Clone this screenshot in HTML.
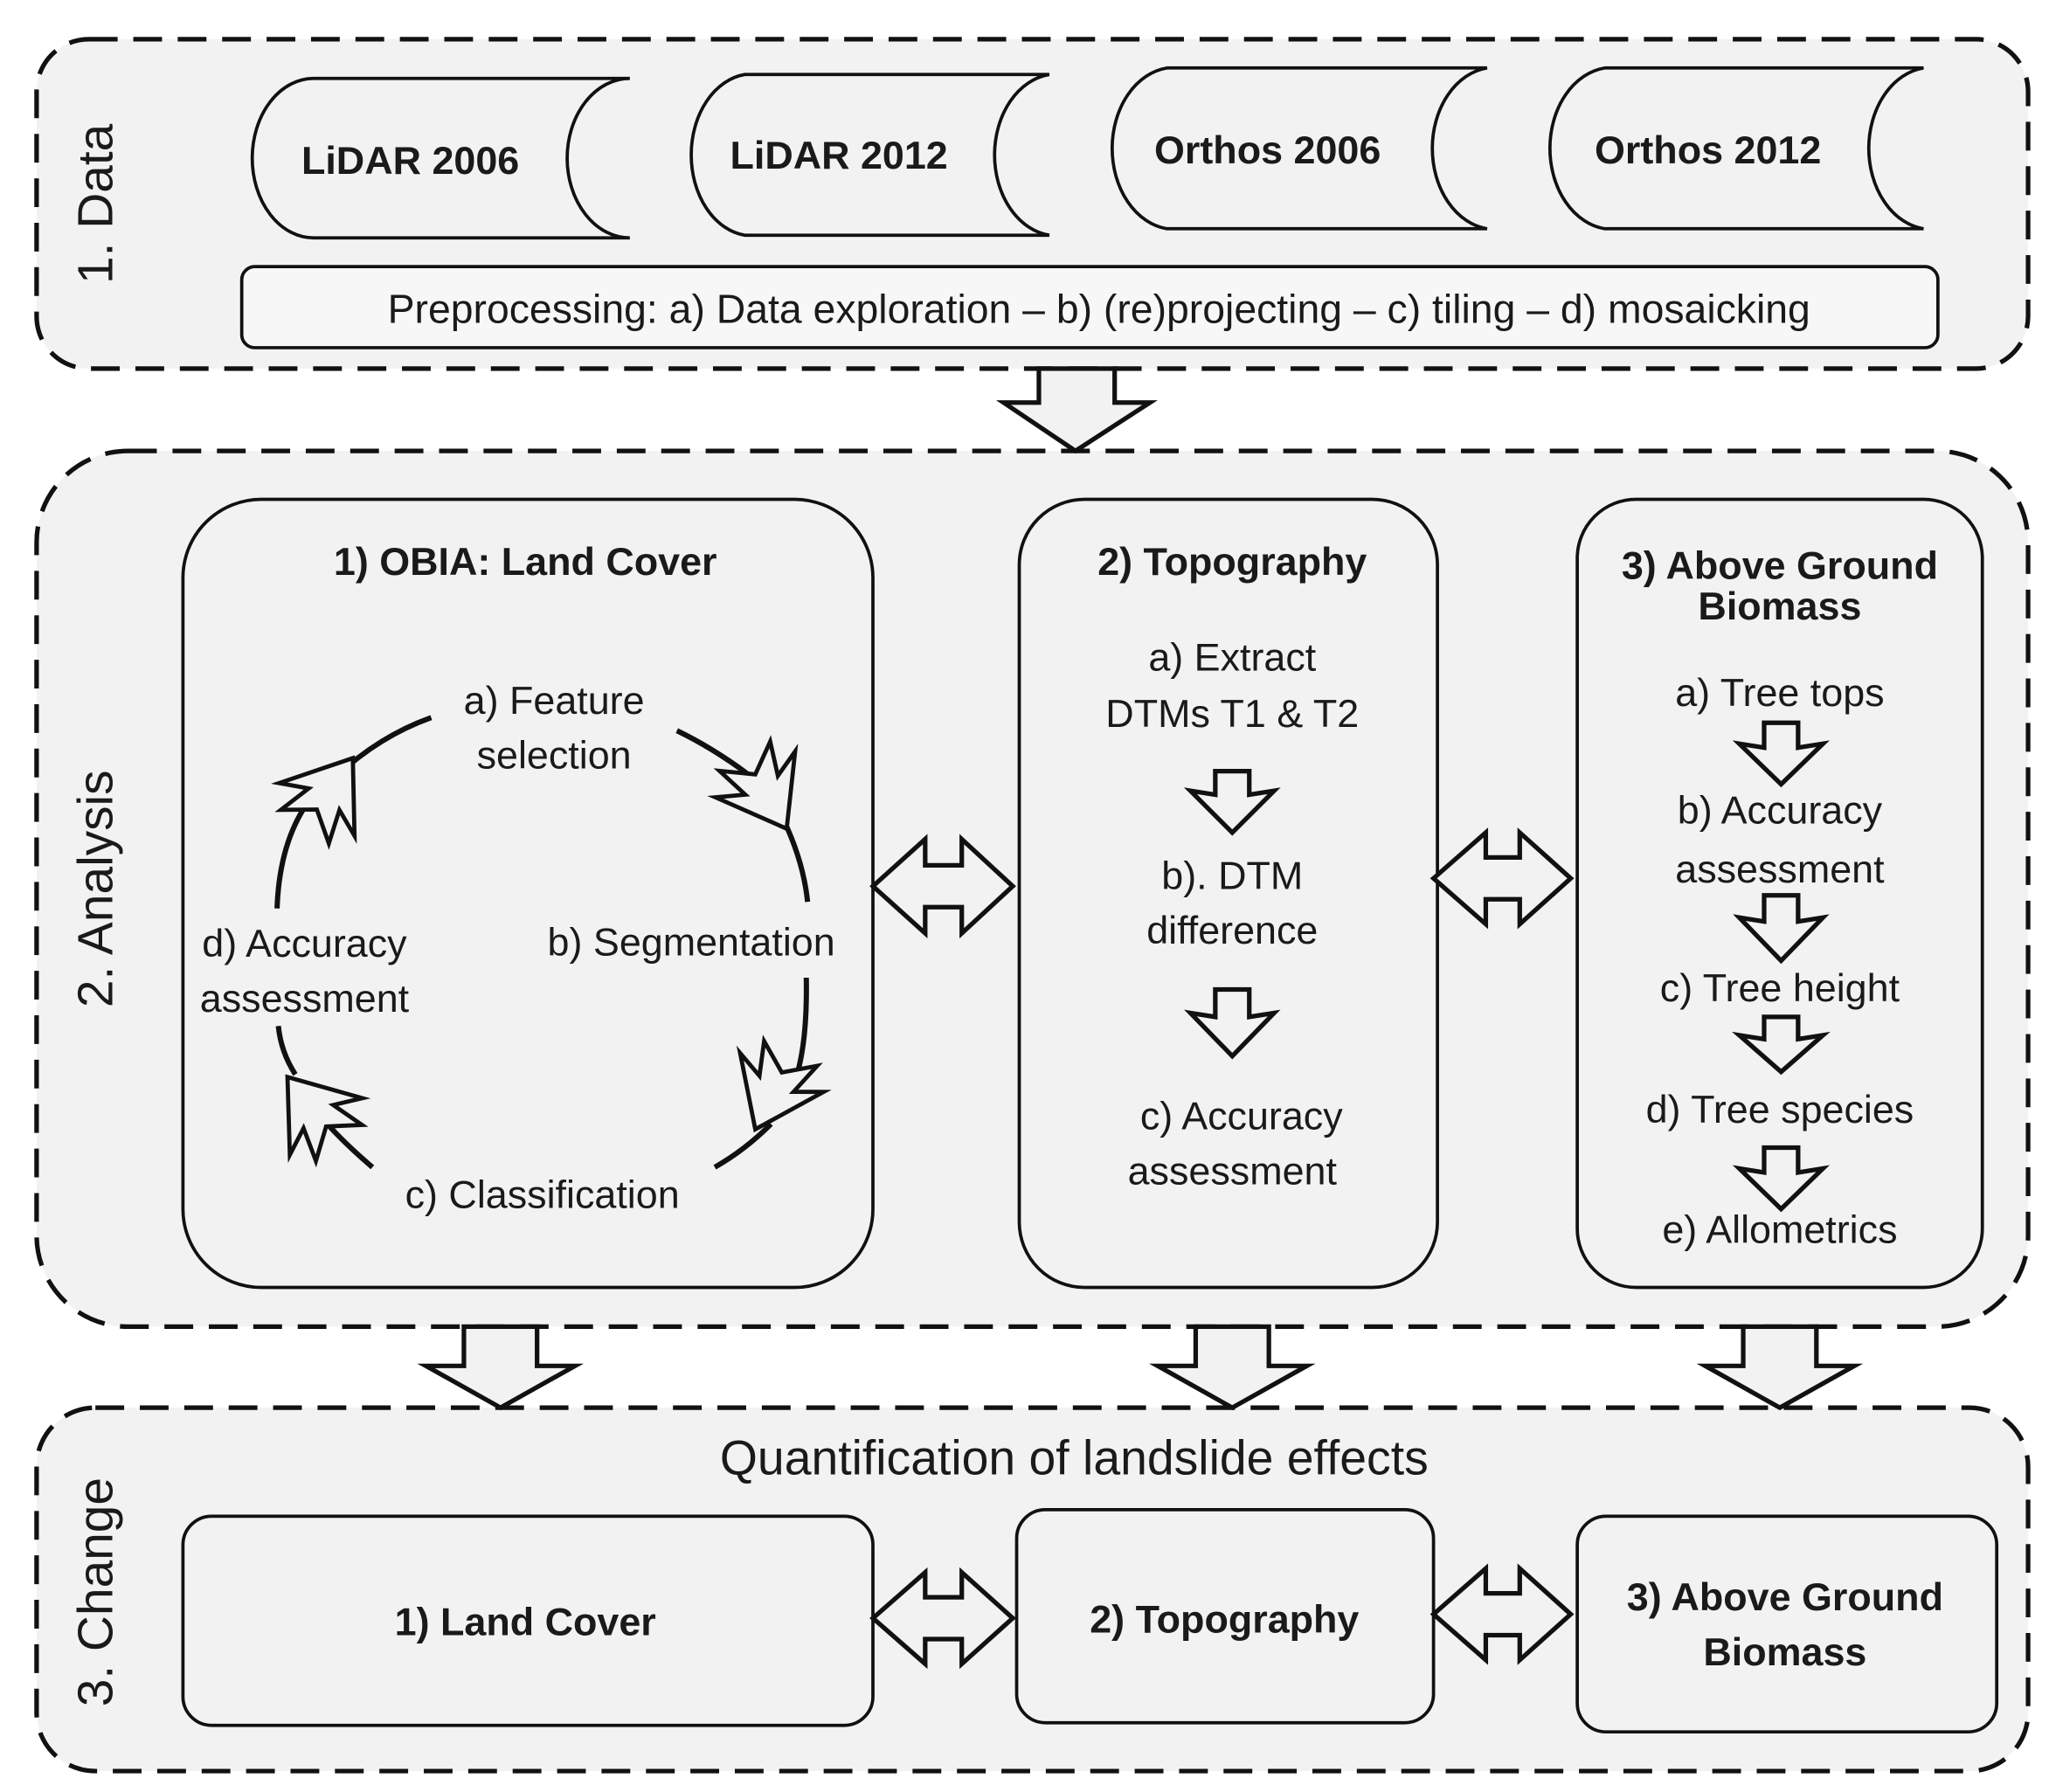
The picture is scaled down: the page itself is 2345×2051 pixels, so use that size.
<!DOCTYPE html>
<html><head><meta charset="utf-8"><style>
html,body{margin:0;padding:0;background:#fff;}
svg{display:block;}
text{font-family:"Liberation Sans",sans-serif;fill:#1a1a1a;}
.b{font-weight:bold;}
</style></head><body>
<svg width="2345" height="2051" viewBox="0 0 1568 1371" preserveAspectRatio="none" xmlns="http://www.w3.org/2000/svg">
<defs>
<polygon id="hd" points="0,0 -30,-22 -24,-9 -40,-14 -30,0 -40,14 -24,9 -30,22" fill="#f2f2f2" stroke="#111" stroke-width="2" stroke-linejoin="miter"/>
</defs>
<rect width="1568" height="1371" fill="#fff"/>
<g fill="#f2f2f2" stroke="#111" stroke-width="3.5" stroke-dasharray="22,12">
<rect x="28" y="30" width="1524" height="252" rx="40"/>
<rect x="28" y="345" width="1524" height="670" rx="70"/>
<rect x="28" y="1077" width="1524" height="278" rx="45"/>
</g>
<g font-size="38">
<text transform="translate(86,156) rotate(-90)" text-anchor="middle">1. Data</text>
<text transform="translate(86,680) rotate(-90)" text-anchor="middle">2. Analysis</text>
<text transform="translate(86,1218) rotate(-90)" text-anchor="middle">3. Change</text>
</g>
<g fill="#f2f2f2" stroke="#111" stroke-width="2.5">
<path d="M240,60 L482,60 A48,61 0 0 0 482,182 L240,182 A47,61 0 0 1 240,60 Z"/>
<path d="M570,57 L803,57 A48,62 0 0 0 803,180 L570,180 A47,62 0 0 1 570,57 Z"/>
<path d="M893,52 L1138,52 A48,62 0 0 0 1138,175 L893,175 A48,62 0 0 1 893,52 Z"/>
<path d="M1228,52 L1472,52 A48,62 0 0 0 1472,175 L1228,175 A48,62 0 0 1 1228,52 Z"/>
</g>
<g font-size="30" text-anchor="middle">
<text x="314" y="133" class="b">LiDAR 2006</text>
<text x="642" y="129" class="b">LiDAR 2012</text>
<text x="970" y="125" class="b">Orthos 2006</text>
<text x="1307" y="125" class="b">Orthos 2012</text>
</g>
<rect x="185" y="204" width="1298" height="62" rx="10" fill="#f7f7f7" stroke="#111" stroke-width="2.5"/>
<text x="841" y="247" font-size="31" text-anchor="middle">Preprocessing: a) Data exploration – b) (re)projecting – c) tiling – d) mosaicking</text>
<g fill="#f2f2f2" stroke="#111" stroke-width="3.5" stroke-linejoin="miter">
<polygon points="795,282 853,282 853,308 880,308 823,345 768,308 795,308"/>
<polygon points="355,1015 411,1015 411,1045 440,1045 383,1077 326,1045 355,1045"/>
<polygon points="915,1015 971,1015 971,1045 1000,1045 943,1077 886,1045 915,1045"/>
<polygon points="1334,1015 1390,1015 1390,1045 1419,1045 1362,1077 1305,1045 1334,1045"/>
</g>
<g fill="#f2f2f2" stroke="#111" stroke-width="2.5">
<rect x="140" y="382" width="528" height="603" rx="60"/>
<rect x="780" y="382" width="320" height="603" rx="50"/>
<rect x="1207" y="382" width="310" height="603" rx="45"/>
<rect x="140" y="1160" width="528" height="160" rx="22"/>
<rect x="778" y="1155" width="319" height="163" rx="22"/>
<rect x="1207" y="1160" width="321" height="165" rx="22"/>
</g>
<g fill="#f2f2f2" stroke="#111" stroke-width="3.5" stroke-linejoin="miter">
<polygon points="668,678 708,642 708,662 736,662 736,642 775,678 736,714 736,694 708,694 708,714"/>
<polygon points="1097,672 1137,637 1137,656 1163,656 1163,637 1202,672 1163,707 1163,688 1137,688 1137,707"/>
<polygon points="668,1238 708,1203 708,1222 736,1222 736,1203 775,1238 736,1273 736,1254 708,1254 708,1273"/>
<polygon points="1097,1235 1137,1200 1137,1219 1163,1219 1163,1200 1202,1235 1163,1270 1163,1251 1137,1251 1137,1270"/>
</g>
<g fill="#f2f2f2" stroke="#111" stroke-width="3.5" stroke-linejoin="miter">
<polygon points="930,590 956,590 956,608 975,605 943,637 911,605 930,608"/>
<polygon points="930,757 956,757 956,778 975,775 943,808 911,775 930,778"/>
<polygon points="1350,553 1376,553 1376,572 1395,569 1363,600 1331,569 1350,572"/>
<polygon points="1350,685 1376,685 1376,705 1395,702 1363,735 1331,702 1350,705"/>
<polygon points="1350,778 1376,778 1376,795 1395,792 1363,820 1331,792 1350,795"/>
<polygon points="1350,878 1376,878 1376,897 1395,894 1363,925 1331,894 1350,897"/>
</g>
<g font-size="30" text-anchor="middle">
<text x="402" y="440" class="b">1) OBIA: Land Cover</text>
<text x="943" y="440" class="b">2) Topography</text>
<text x="1362" y="443" class="b">3) Above Ground</text>
<text x="1362" y="474" class="b">Biomass</text>
</g>
<g font-size="30" text-anchor="middle">
<text x="424" y="546">a) Feature</text>
<text x="424" y="588">selection</text>
<text x="529" y="731">b) Segmentation</text>
<text x="233" y="732">d) Accuracy</text>
<text x="233" y="774">assessment</text>
<text x="415" y="924">c) Classification</text>
<text x="943" y="513">a) Extract</text>
<text x="943" y="556">DTMs T1 &amp; T2</text>
<text x="943" y="680">b). DTM</text>
<text x="943" y="722">difference</text>
<text x="950" y="864">c) Accuracy</text>
<text x="943" y="906">assessment</text>
<text x="1362" y="540">a) Tree tops</text>
<text x="1362" y="630">b) Accuracy</text>
<text x="1362" y="675">assessment</text>
<text x="1362" y="766">c) Tree height</text>
<text x="1362" y="859">d) Tree species</text>
<text x="1362" y="951">e) Allometrics</text>
<text x="822" y="1128" font-size="37">Quantification of landslide effects</text>
<text x="402" y="1251" class="b">1) Land Cover</text>
<text x="937" y="1249" class="b">2) Topography</text>
<text x="1366" y="1232" class="b">3) Above Ground</text>
<text x="1366" y="1274" class="b">Biomass</text>
</g>
<g fill="none" stroke="#111" stroke-width="4">
<path d="M212,695 Q214,640 240,608"/>
<path d="M248,603 Q285,565 330,549"/>
<path d="M518,559 Q545,572 572,592"/>
<path d="M600,628 Q615,660 618,690"/>
<path d="M617,748 Q618,800 608,828"/>
<path d="M590,860 Q570,880 547,893"/>
<path d="M285,893 Q258,870 242,850"/>
<path d="M226,822 Q215,805 213,785"/>
</g>
<use href="#hd" transform="translate(270,580) rotate(-55) scale(1.6)"/>
<use href="#hd" transform="translate(602,634) rotate(60) scale(1.6)"/>
<use href="#hd" transform="translate(578,864) rotate(115) scale(1.6)"/>
<use href="#hd" transform="translate(220,824) rotate(232) scale(1.6)"/>
</svg>
</body></html>
